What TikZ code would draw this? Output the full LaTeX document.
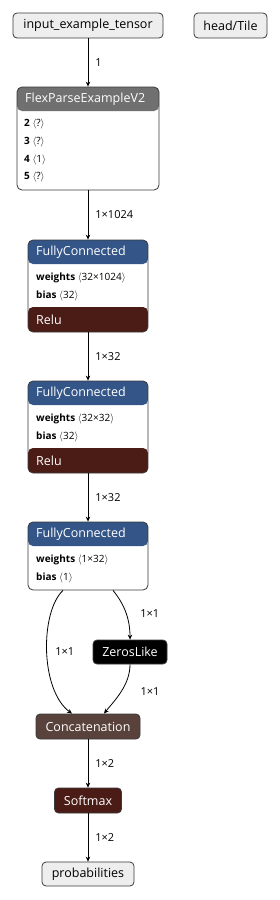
\documentclass[tikz,border=0pt]{standalone}
\usepackage{fontspec}
\setmainfont{Open Sans}
\usetikzlibrary{positioning,arrows.meta}

\definecolor{boxline}{HTML}{3A3A3A}
\definecolor{iofill}{HTML}{EEEEEE}
\definecolor{hdrgray}{HTML}{707070}
\definecolor{layerblue}{HTML}{335588}
\definecolor{actred}{HTML}{4B1B16}
\definecolor{concatbrown}{HTML}{59423B}

\begin{document}
\begin{tikzpicture}[x=1pt, y=-1pt,
    box/.style={draw=boxline, line width=0.8pt, rounded corners=4pt, inner sep=0pt},
    io/.style={box, fill=iofill, minimum height=25pt, font=\fontsize{12.5}{14}\selectfont},
    op/.style={box, fill=#1, text=white, minimum height=25pt, font=\fontsize{12.5}{14}\selectfont},
    layer/.style={box, fill=white, rounded corners=5pt},
    hdr/.style={path picture={
        \fill[#1] (path picture bounding box.north west) rectangle ([yshift=-24pt]path picture bounding box.north east);}},
    hdract/.style 2 args={path picture={
        \fill[#1] (path picture bounding box.north west) rectangle ([yshift=-24pt]path picture bounding box.north east);
        \fill[#2] (path picture bounding box.south west) rectangle ([yshift=25pt]path picture bounding box.south east);}},
    hdrtext/.style={anchor=west, text=white, inner sep=0pt, font=\fontsize{12.5}{14}\selectfont},
    attr/.style={anchor=west, inner sep=0pt, font=\fontsize{10}{12}\selectfont},
    lbl/.style={inner sep=0pt, font=\fontsize{11}{13}\selectfont},
    conn/.style={line width=0.8pt, -{Stealth[length=5pt,width=4.5pt]}},
]
    \useasboundingbox (0,0) rectangle (280,900);

    % --- inputs ---
    \node[io, minimum width=150pt] (input) at (88,25.5) {input\_example\_tensor};
    \node[io, minimum width=73pt] (tile) at (230.5,25.5) {head/Tile};

    % --- FlexParseExampleV2 ---
    \node[layer, hdr=hdrgray, minimum width=142pt, minimum height=103pt] (flex) at (88,138.5) {};
    \node[hdrtext] at (25,99) {FlexParseExampleV2};
    \node[attr] at (24,124) {\textbf{2} $\langle$?$\rangle$};
    \node[attr] at (24,142) {\textbf{3} $\langle$?$\rangle$};
    \node[attr] at (24,160) {\textbf{4} $\langle$1$\rangle$};
    \node[attr] at (24,177) {\textbf{5} $\langle$?$\rangle$};

    % --- FullyConnected + Relu (1) ---
    \node[layer, hdract={layerblue}{actred}, minimum width=120pt, minimum height=92pt] (fc1) at (88,286) {};
    \node[hdrtext] at (36,252) {FullyConnected};
    \node[attr] at (36,278) {\textbf{weights} $\langle$32×1024$\rangle$};
    \node[attr] at (36,296) {\textbf{bias} $\langle$32$\rangle$};
    \node[hdrtext] at (36,320) {Relu};

    % --- FullyConnected + Relu (2) ---
    \node[layer, hdract={layerblue}{actred}, minimum width=120pt, minimum height=92pt] (fc2) at (88,427) {};
    \node[hdrtext] at (36,393) {FullyConnected};
    \node[attr] at (36,419) {\textbf{weights} $\langle$32×32$\rangle$};
    \node[attr] at (36,437) {\textbf{bias} $\langle$32$\rangle$};
    \node[hdrtext] at (36,461) {Relu};

    % --- FullyConnected (3) ---
    \node[layer, hdr=layerblue, minimum width=120pt, minimum height=68pt] (fc3) at (88,556) {};
    \node[hdrtext] at (36,534) {FullyConnected};
    \node[attr] at (36,560) {\textbf{weights} $\langle$1×32$\rangle$};
    \node[attr] at (36,578) {\textbf{bias} $\langle$1$\rangle$};

    % --- tail ops ---
    \node[op=black, minimum width=74pt, minimum height=24pt] (zeros) at (130,652) {ZerosLike};
    \node[op=concatbrown, minimum width=104pt] (concat) at (88,726.5) {Concatenation};
    \node[op=actred, minimum width=67pt] (softmax) at (88,800.5) {Softmax};
    \node[io, minimum width=92pt, minimum height=24pt] (prob) at (88,874) {probabilities};

    % --- connectors ---
    \draw[conn] (input) -- node[lbl, right=7pt] {1} (flex);
    \draw[conn] (flex) -- node[lbl, right=7pt] {1×1024} (fc1);
    \draw[conn] (fc1) -- node[lbl, right=7pt] {1×32} (fc2);
    \draw[conn] (fc2) -- node[lbl, right=7pt] {1×32} (fc3);
    \draw[conn] ([xshift=-25pt]fc3.south) .. controls (40,612) and (40,690) .. node[lbl, right=8pt] {1×1} ([xshift=-16pt]concat.north);
    \draw[conn] ([xshift=25pt]fc3.south) .. controls (125,605) and (130,620) .. node[lbl, right=14pt] {1×1} (zeros.north);
    \draw[conn] (zeros.south) .. controls (130,685) and (115,700) .. node[lbl, right=19pt] {1×1} ([xshift=16pt]concat.north);
    \draw[conn] (concat) -- node[lbl, right=7pt] {1×2} (softmax);
    \draw[conn] (softmax) -- node[lbl, right=7pt] {1×2} (prob);
\end{tikzpicture}
\end{document}
